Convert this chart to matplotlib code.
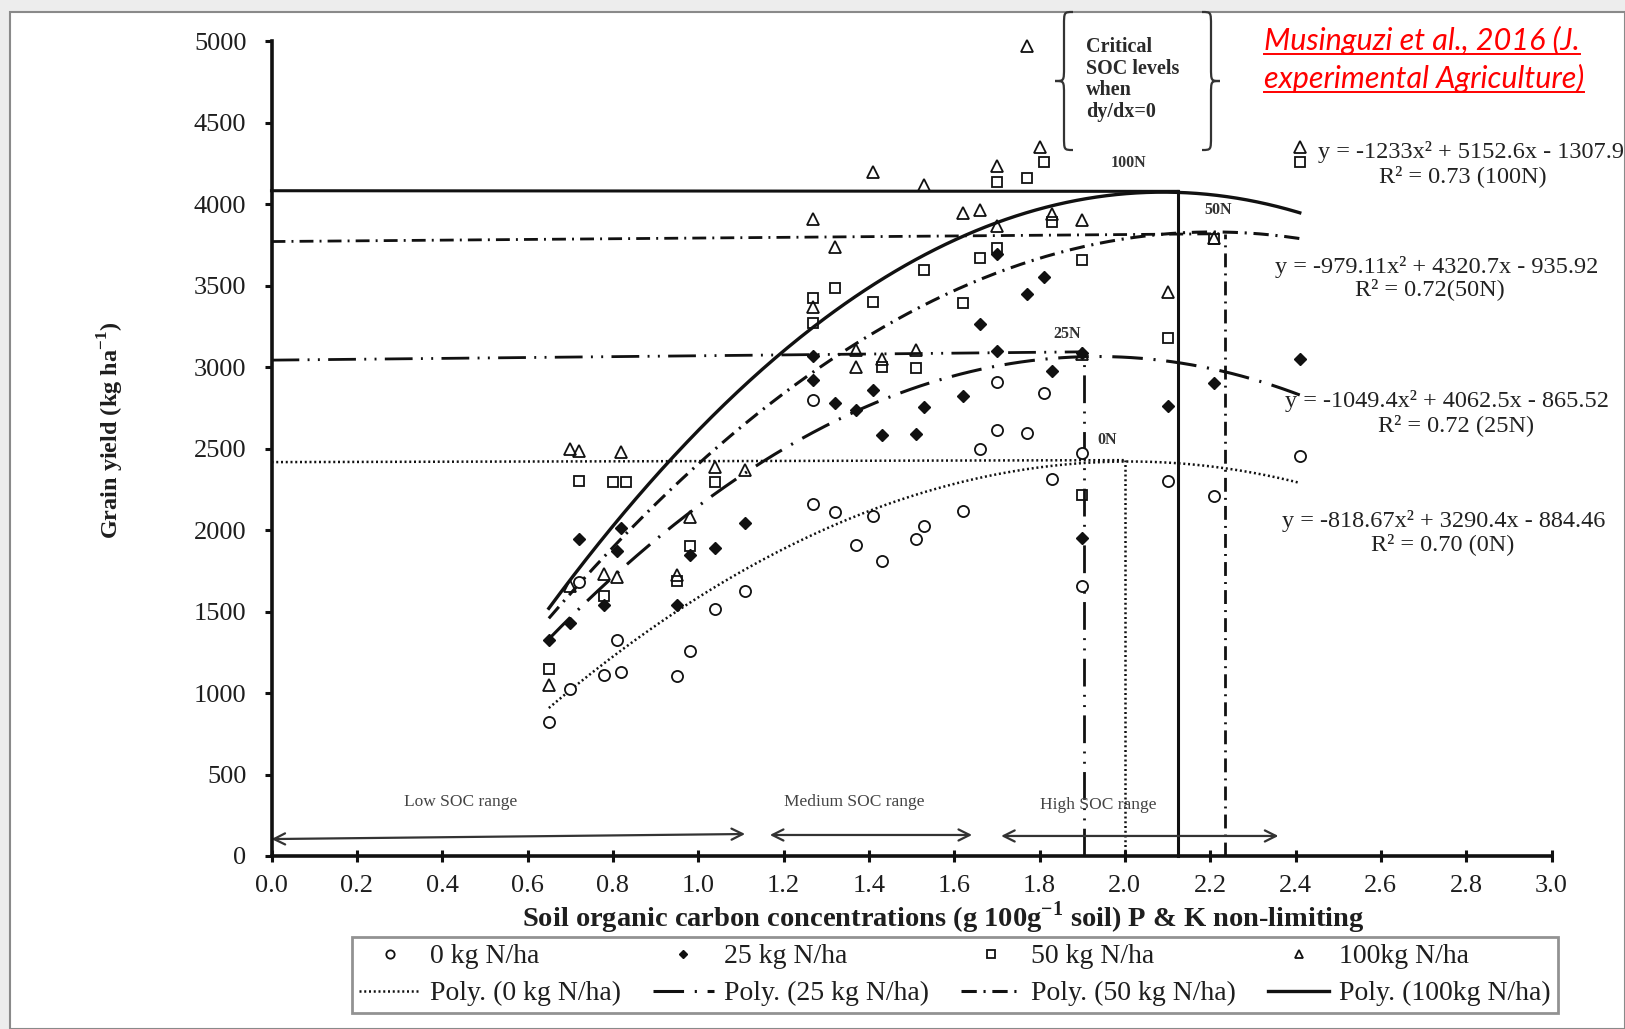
import numpy as np
import matplotlib
matplotlib.use("Agg")
import matplotlib.pyplot as plt
from matplotlib.path import Path
from matplotlib.patches import PathPatch, Rectangle, FancyArrowPatch
from matplotlib.lines import Line2D

# ---------------- data ----------------
x_0N = [0.65, 0.70, 0.72, 0.78, 0.81, 0.82, 0.95, 0.98, 1.04, 1.11, 1.27, 1.27, 1.32, 1.37, 1.41,
        1.43, 1.51, 1.53, 1.62, 1.66, 1.70, 1.70, 1.77, 1.81, 1.83, 1.90, 1.90, 2.10, 2.21, 2.41]
y_0N = [820, 1024, 1680, 1113, 1323, 1132, 1107, 1260, 1514, 1628, 2800, 2163, 2112, 1908, 2087,
        1813, 1947, 2023, 2118, 2500, 2910, 2614, 2595, 2843, 2317, 2472, 1660, 2302, 2212, 2455]

x_25N = [0.65, 0.70, 0.72, 0.78, 0.81, 0.82, 0.95, 0.98, 1.04, 1.11, 1.27, 1.27, 1.32, 1.37, 1.41,
         1.43, 1.51, 1.53, 1.62, 1.66, 1.70, 1.70, 1.77, 1.81, 1.83, 1.90, 1.90, 2.10, 2.21, 2.41]
y_25N = [1325, 1432, 1943, 1543, 1875, 2016, 1541, 1850, 1891, 2043, 3068, 2924, 2780, 2740, 2860,
         2582, 2590, 2754, 2822, 3265, 3097, 3697, 3452, 3556, 2980, 3090, 1952, 2763, 2906, 3050]

x_50N = [0.65, 0.72, 0.78, 0.80, 0.83, 0.95, 0.98, 1.04, 1.27, 1.27, 1.32, 1.41, 1.43, 1.51,
         1.53, 1.62, 1.66, 1.70, 1.70, 1.77, 1.81, 1.83, 1.90, 1.90, 2.10, 2.21, 2.41]
y_50N = [1148, 2305, 1595, 2297, 2297, 1690, 1900, 2297, 3428, 3273, 3484, 3403, 3004, 2995,
         3598, 3392, 3673, 3735, 4137, 4162, 4262, 3890, 3660, 2215, 3179, 3785, 4262]

x_100N = [0.65, 0.70, 0.72, 0.70, 0.78, 0.81, 0.82, 0.95, 0.98, 1.04, 1.11, 1.27, 1.27, 1.32, 1.37,
          1.37, 1.41, 1.43, 1.51, 1.53, 1.62, 1.66, 1.70, 1.70, 1.77, 1.80, 1.83, 1.90, 1.90,
          2.10, 2.21, 2.41]
y_100N = [1050, 2496, 2488, 1660, 1733, 1713, 2482, 1728, 2080, 2390, 2372, 3913, 3372, 3738, 3108,
          3002, 4199, 3050, 3108, 4120, 3947, 3965, 4235, 3865, 4975, 4355, 3942, 3905, 3080,
          3465, 3792, 4352]

# quadratic fits printed on the chart: a, b, c
coef_0N = [-818.67, 3290.4, -884.46]
coef_25N = [-1049.4, 4062.5, -865.52]
coef_50N = [-979.11, 4320.7, -935.92]
coef_100N = [-1233.0, 5152.6, -1307.9]
fit_range = [0.65, 2.41]

# critical SOC levels (order 0N, 25N, 50N, 100N)
crit_x = [2.00, 1.905, 2.235, 2.125]
crit_y_left = [2418, 3044, 3772, 4084]
crit_y_right = [2430, 3095, 3820, 4080]

# SOC range arrows: start, end, y-start, y-end
range_names = ["Low SOC range", "Medium SOC range", "High SOC range"]
range_x0 = [0.0, 1.168, 1.71]
range_x1 = [1.11, 1.642, 2.36]
range_y0 = [104, 129, 123]
range_y1 = [135, 129, 123]
range_lab_x = [0.443, 1.366, 1.938]
range_lab_y = [333, 333, 313]

xticks = [0.0, 0.2, 0.4, 0.6, 0.8, 1.0, 1.2, 1.4, 1.6, 1.8, 2.0, 2.2, 2.4, 2.6, 2.8, 3.0]
yticks = [0, 500, 1000, 1500, 2000, 2500, 3000, 3500, 4000, 4500, 5000]

# ---------------- figure ----------------
W, H = 1625, 1029
SERIF = ["Liberation Serif", "DejaVu Serif"]
TXT = "#1e1e1e"
plt.rcParams["font.family"] = SERIF

fig = plt.figure(figsize=(W / 100, H / 100), dpi=100, facecolor="#ededed")


def fx(px):
    return px / W


def fy(py):
    return 1 - py / H


fig.patches.append(Rectangle((fx(10), 0), 1 - fx(10), fy(12), transform=fig.transFigure,
                             facecolor="white", edgecolor="#8a8a8a", lw=1.5, zorder=-10))

ax = fig.add_axes([fx(271.5), fy(856), (1551.5 - 271.5) / W, (856 - 41.5) / H])
ax.set_zorder(2)
ax.set_facecolor("none")
ax.set_xlim(0, 3.0)
ax.set_ylim(0, 5000)
for s in ["top", "right"]:
    ax.spines[s].set_visible(False)
for s in ["left", "bottom"]:
    ax.spines[s].set_linewidth(2.6)
    ax.spines[s].set_color("#111111")
ax.set_xticks(xticks)
ax.set_xticklabels([f"{v:.1f}" for v in xticks])
ax.set_yticks(yticks)
ax.set_yticklabels([str(v) for v in yticks])
ax.tick_params(axis="y", direction="out", length=5, width=2.2, pad=13, labelsize=19,
               labelcolor=TXT, color="#111111")
ax.tick_params(axis="x", direction="inout", length=8, width=2.2, pad=10, labelsize=19,
               labelcolor=TXT, color="#111111")

fig.text(fx(943), fy(918),
         "Soil organic carbon concentrations (g 100g$^{\\mathregular{-1}}$ soil) P & K non-limiting",
         fontsize=20.5, fontweight="bold", color=TXT, ha="center", va="center")
fig.text(fx(111), fy(430), "Grain yield (kg ha$^{\\mathregular{-1}}$)", fontsize=17.5,
         fontweight="bold", color=TXT, rotation=90, ha="center", va="center")

# ----- reference lines for critical levels -----
st_0N = (0, (0.8, 1.1))
st_25N_ref = (0, (10, 3, 0.7, 3, 0.7, 3))
st_50N_ref = (0, (5, 2.2, 0.7, 2.2))
styles_ref = [st_0N, st_25N_ref, st_50N_ref, "-"]
lws_ref = [1.8, 2.0, 2.0, 2.2]
for i in range(4):
    ax.plot([0, crit_x[i]], [crit_y_left[i], crit_y_right[i]], color="#111111",
            ls=styles_ref[i], lw=lws_ref[i], clip_on=False, zorder=2)
    ax.plot([crit_x[i], crit_x[i]], [0, crit_y_right[i]], color="#111111",
            ls=styles_ref[i], lw=lws_ref[i], clip_on=False, zorder=2)

# ----- fitted curves -----
xs = np.linspace(fit_range[0], fit_range[1], 300)
st_0N_fit = (0, (0.8, 1.1))
st_25N_fit = (0, (10, 3.5, 0.7, 3.5))
st_50N_fit = (0, (5, 2.2, 0.7, 2.2))
curve_0N, = ax.plot(xs, np.polyval(coef_0N, xs), color="#111111", ls=st_0N_fit, lw=1.8, zorder=3)
curve_25N, = ax.plot(xs, np.polyval(coef_25N, xs), color="#111111", ls=st_25N_fit, lw=2.2, zorder=3)
curve_50N, = ax.plot(xs, np.polyval(coef_50N, xs), color="#111111", ls=st_50N_fit, lw=2.2, zorder=3)
curve_100N, = ax.plot(xs, np.polyval(coef_100N, xs), color="#111111", ls="-", lw=2.4, zorder=3)

# ----- scatter points -----
mk0, = ax.plot(x_0N, y_0N, ls="none", marker="o", ms=8, mfc="white", mec="#111111", mew=1.3, zorder=4)
mk25, = ax.plot(x_25N, y_25N, ls="none", marker="D", ms=6, mfc="#111111", mec="#111111", mew=1.0, zorder=4)
mk50, = ax.plot(x_50N, y_50N, ls="none", marker="s", ms=7, mfc="none", mec="#111111", mew=1.3, zorder=4)
mk100, = ax.plot(x_100N, y_100N, ls="none", marker="^", ms=8, mfc="none", mec="#111111", mew=1.3,
                 zorder=4, clip_on=False)

# ----- SOC range arrows -----
for i in range(3):
    ar = FancyArrowPatch((range_x0[i], range_y0[i]), (range_x1[i], range_y1[i]),
                         arrowstyle="<->,head_length=8,head_width=4", color="#333333", lw=1.6,
                         shrinkA=0, shrinkB=0, clip_on=False, zorder=2)
    ax.add_patch(ar)
    ax.text(range_lab_x[i], range_lab_y[i], range_names[i], fontsize=12.5, color="#444444",
            ha="center", va="center")

# ----- labels of curves -----
for lab, px, py in [("100N", 1128, 163), ("50N", 1218, 210), ("25N", 1067, 334), ("0N", 1107, 440)]:
    fig.text(fx(px), fy(py), lab, fontsize=11.5, fontweight="bold", color="#333333",
             ha="center", va="center")

# ----- equations -----
eq_info = [
    ("y = -1233x\u00b2 + 5152.6x - 1307.9", 1318, 152, "R\u00b2 = 0.73 (100N)", 1463, 176),
    ("y = -979.11x\u00b2 + 4320.7x - 935.92", 1275, 267, "R\u00b2 = 0.72(50N)", 1430, 289),
    ("y = -1049.4x\u00b2 + 4062.5x - 865.52", 1285, 401, "R\u00b2 = 0.72 (25N)", 1456, 425),
    ("y = -818.67x\u00b2 + 3290.4x - 884.46", 1282, 521, "R\u00b2 = 0.70 (0N)", 1443, 544),
]
for eq, ex, ey, r2, rx, ry in eq_info:
    fig.text(fx(ex), fy(ey), eq, fontsize=17.5, color="#222222", ha="left", va="center")
    fig.text(fx(rx), fy(ry), r2, fontsize=17.5, color="#222222", ha="center", va="center")

# ----- critical SOC note with braces -----
fig.text(fx(1086), fy(37), "Critical\nSOC levels\nwhen\ndy/dx=0", fontsize=14.5, fontweight="bold",
         color="#2a2a2a", ha="left", va="top", linespacing=1.1)


def brace(xc, ytop, ybot, w, d):
    ym = (ytop + ybot) / 2
    q = 0.10 * (ytop - ybot)
    verts = [(xc - d * w / 2, ytop), (xc, ytop), (xc, ytop), (xc, ytop - q),
             (xc, ym + q),
             (xc, ym), (xc, ym), (xc + d * w / 2, ym),
             (xc, ym), (xc, ym), (xc, ym - q),
             (xc, ybot + q),
             (xc, ybot), (xc, ybot), (xc - d * w / 2, ybot)]
    codes = [Path.MOVETO, Path.CURVE4, Path.CURVE4, Path.CURVE4, Path.LINETO,
             Path.CURVE4, Path.CURVE4, Path.CURVE4, Path.CURVE4, Path.CURVE4, Path.CURVE4,
             Path.LINETO, Path.CURVE4, Path.CURVE4, Path.CURVE4]
    verts = [(fx(a), fy(b)) for a, b in verts]
    fig.patches.append(PathPatch(Path(verts, codes), transform=fig.transFigure, fill=False,
                                 lw=1.6, edgecolor="#333333", zorder=5))


brace(1064, 12, 150, 18, -1)
brace(1211, 12, 150, 18, 1)

# ----- citation (red, underlined) -----
cites = []
for line, py in [("Musinguzi et al., 2016 (J.", 50), ("experimental Agriculture)", 88)]:
    t = fig.text(fx(1264), fy(py), line, fontsize=22, style="italic", family=["Lato", "DejaVu Sans"],
                 color="#ff0000", ha="left", va="baseline")
    cites.append((t, py))

# ----- legend -----
handles = [mk0, curve_0N, mk25, curve_25N, mk50, curve_50N, mk100, curve_100N]
labels = ["0 kg N/ha", "Poly. (0 kg N/ha)", "25 kg N/ha", "Poly. (25 kg N/ha)",
          "50 kg N/ha", "Poly. (50 kg N/ha)", "100kg N/ha", "Poly. (100kg N/ha)"]
leg = fig.legend(handles, labels, ncol=4, loc="upper left", bbox_to_anchor=(fx(352), fy(937)),
                 fontsize=20, frameon=True, fancybox=False, edgecolor="#777777", handlelength=2.2,
                 handletextpad=0.35, columnspacing=1.15, labelspacing=0.42, borderpad=0.25,
                 markerscale=0.75, borderaxespad=0)
leg.get_frame().set_linewidth(2.0)
for t in leg.get_texts():
    t.set_color(TXT)

fig.canvas.draw()
r = fig.canvas.get_renderer()
for t, py in cites:
    bb = t.get_window_extent(r)
    ypos = fy(py + 4)
    fig.add_artist(Line2D([bb.x0 / W, bb.x1 / W], [ypos, ypos], transform=fig.transFigure,
                          color="#ff0000", lw=1.4))

fig.savefig("out.png", dpi=100, facecolor=fig.get_facecolor())
